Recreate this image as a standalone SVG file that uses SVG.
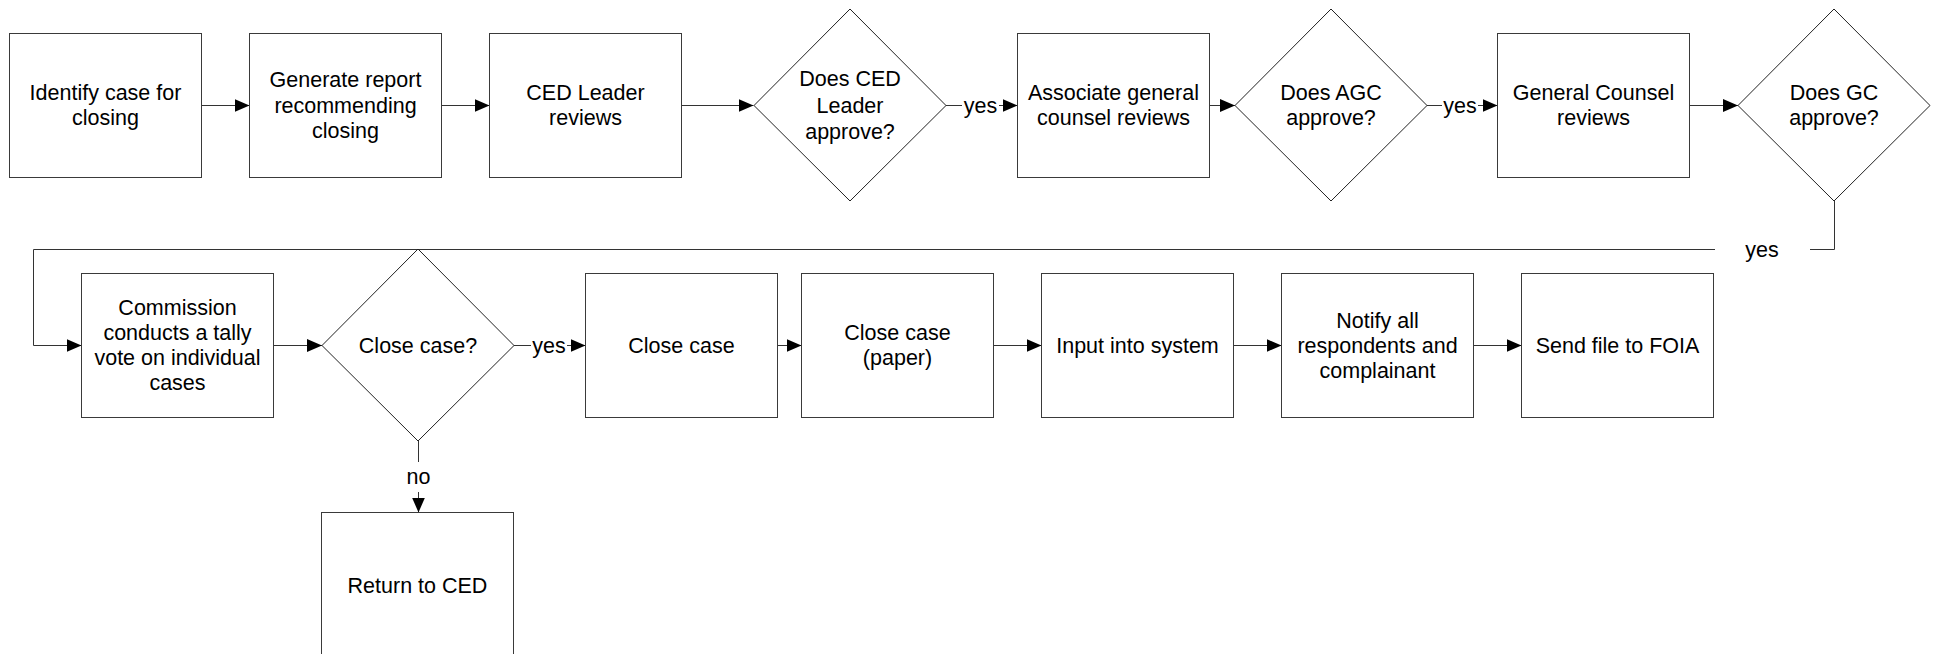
<svg xmlns="http://www.w3.org/2000/svg" width="1939" height="654" viewBox="0 0 1939 654">
<style>
.n{fill:#fff;stroke:#3a3a3a;stroke-width:1}
.d{fill:#fff;stroke:#222;stroke-width:1}
.t{font-family:"Liberation Sans",Arial,sans-serif;font-size:21.5px;fill:#000;text-anchor:middle}
.c{fill:none;stroke:#333;stroke-width:1}
.a{marker-end:url(#ah)}
</style>
<defs>
<marker id="ah" markerUnits="userSpaceOnUse" markerWidth="15" markerHeight="13" refX="15" refY="6.5" orient="auto">
<path d="M0,0 L15,6.5 L0,13 z" fill="#000"/>
</marker>
</defs>
<rect width="1939" height="654" fill="#fff"/>
<g id="connectors">
<path class="c a" d="M201.5,105.5 H249.5"/>
<path class="c a" d="M441.5,105.5 H489.5"/>
<path class="c a" d="M681.5,105.5 H753.5"/>
<path class="c" d="M946,105.5 H962"/>
<text class="t" x="980.5" y="113">yes</text>
<path class="c a" d="M999,105.5 H1017.5"/>
<path class="c a" d="M1209.5,105.5 H1235"/>
<path class="c" d="M1427,105.5 H1442"/>
<text class="t" x="1460" y="113">yes</text>
<path class="c a" d="M1478,105.5 H1497.5"/>
<path class="c a" d="M1689.5,105.5 H1738"/>
<path class="c" d="M1834.5,201 V249.5 H1810"/>
<text class="t" x="1762" y="257">yes</text>
<path class="c a" d="M1715,249.5 H33.5 V345.5 H81.5"/>
<path class="c a" d="M273.5,345.5 H322"/>
<path class="c" d="M514,345.5 H531"/>
<text class="t" x="549" y="353">yes</text>
<path class="c a" d="M567,345.5 H585.5"/>
<path class="c a" d="M777.5,345.5 H801.5"/>
<path class="c a" d="M993.5,345.5 H1041.5"/>
<path class="c a" d="M1233.5,345.5 H1281.5"/>
<path class="c a" d="M1473.5,345.5 H1521.5"/>
<path class="c" d="M418.5,441 V462"/>
<text class="t" x="418.5" y="484">no</text>
<path class="c a" d="M418.5,492 V512.5"/>
</g>
<g id="n1"><rect class="n" x="9.5" y="33.5" width="192" height="144"/>
<text class="t" x="105.5" y="100">Identify case for<tspan x="105.5" dy="25">closing</tspan></text></g>
<g id="n2"><rect class="n" x="249.5" y="33.5" width="192" height="144"/>
<text class="t" x="345.5" y="87">Generate report<tspan x="345.5" dy="25.5">recommending</tspan><tspan x="345.5" dy="25.5">closing</tspan></text></g>
<g id="n3"><rect class="n" x="489.5" y="33.5" width="192" height="144"/>
<text class="t" x="585.5" y="100">CED Leader<tspan x="585.5" dy="25">reviews</tspan></text></g>
<g id="d1"><polygon class="d" points="850,9 946,105.5 850,201 754,105.5"/>
<text class="t" x="850" y="86">Does CED<tspan x="850" dy="26.5">Leader</tspan><tspan x="850" dy="26.5">approve?</tspan></text></g>
<g id="n4"><rect class="n" x="1017.5" y="33.5" width="192" height="144"/>
<text class="t" x="1113.5" y="100">Associate general<tspan x="1113.5" dy="25">counsel reviews</tspan></text></g>
<g id="d2"><polygon class="d" points="1331,9 1427,105.5 1331,201 1235,105.5"/>
<text class="t" x="1331" y="100">Does AGC<tspan x="1331" dy="25">approve?</tspan></text></g>
<g id="n5"><rect class="n" x="1497.5" y="33.5" width="192" height="144"/>
<text class="t" x="1593.5" y="100">General Counsel<tspan x="1593.5" dy="25">reviews</tspan></text></g>
<g id="d3"><polygon class="d" points="1834,9 1930,105.5 1834,201 1738,105.5"/>
<text class="t" x="1834" y="100">Does GC<tspan x="1834" dy="25">approve?</tspan></text></g>
<g id="n6"><rect class="n" x="81.5" y="273.5" width="192" height="144"/>
<text class="t" x="177.5" y="315">Commission<tspan x="177.5" dy="25">conducts a tally</tspan><tspan x="177.5" dy="25">vote on individual</tspan><tspan x="177.5" dy="25">cases</tspan></text></g>
<g id="d4"><polygon class="d" points="418,249 514,345.5 418,441 322,345.5"/>
<text class="t" x="418" y="353">Close case?</text></g>
<g id="n7"><rect class="n" x="585.5" y="273.5" width="192" height="144"/>
<text class="t" x="681.5" y="353">Close case</text></g>
<g id="n8"><rect class="n" x="801.5" y="273.5" width="192" height="144"/>
<text class="t" x="897.5" y="340">Close case<tspan x="897.5" dy="25">(paper)</tspan></text></g>
<g id="n9"><rect class="n" x="1041.5" y="273.5" width="192" height="144"/>
<text class="t" x="1137.5" y="353">Input into system</text></g>
<g id="n10"><rect class="n" x="1281.5" y="273.5" width="192" height="144"/>
<text class="t" x="1377.5" y="327.5">Notify all<tspan x="1377.5" dy="25">respondents and</tspan><tspan x="1377.5" dy="25">complainant</tspan></text></g>
<g id="n11"><rect class="n" x="1521.5" y="273.5" width="192" height="144"/>
<text class="t" x="1617.5" y="353">Send file to FOIA</text></g>
<g id="n12"><rect class="n" x="321.5" y="512.5" width="192" height="144"/>
<text class="t" x="417.5" y="592.5">Return to CED</text></g>
</svg>
